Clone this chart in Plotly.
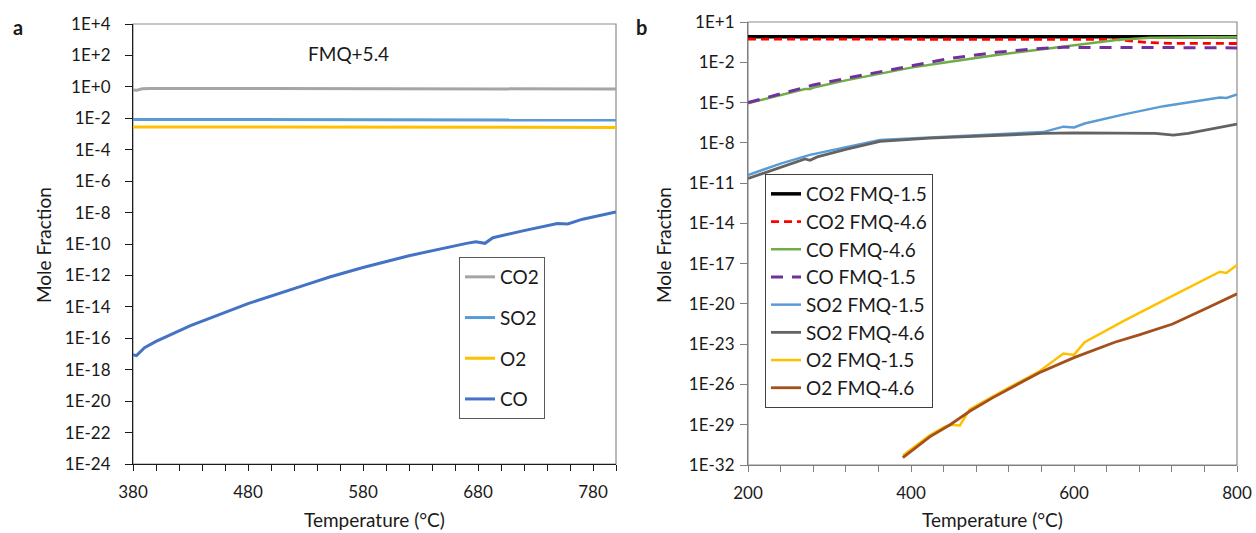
import plotly.graph_objects as go

# ---------------- Panel a data (FMQ+5.4) ----------------
T_a_co2 = [380, 383, 388, 395, 500, 600, 670, 685, 700, 800]
co2_a = [0.62, 0.6, 0.75, 0.8, 0.8, 0.8, 0.8, 0.72, 0.72, 0.72]
T_a_so2 = [380, 500, 600, 670, 685, 700, 800]
so2_a = [0.0085, 0.0085, 0.0085, 0.0085, 0.0077, 0.0077, 0.0077]
T_a_o2 = [380, 500, 600, 670, 685, 700, 800]
o2_a = [0.0028, 0.0028, 0.0029, 0.0029, 0.0026, 0.0026, 0.0026]
T_a_co = [380, 383, 390, 400, 430, 480, 530, 551, 580, 620, 670, 678, 686, 693,
          720, 749, 758, 771, 800]
co_a = [8.9e-18, 7.9e-18, 2.5e-17, 6.3e-17, 6.3e-16, 1.6e-14, 2.5e-13, 7.9e-13,
        3.2e-12, 1.8e-11, 1.1e-10, 1.4e-10, 1.1e-10, 2.5e-10, 7.1e-10, 2.0e-9,
        1.9e-9, 3.8e-9, 1.1e-8]

# ---------------- Panel b data ----------------
T_b_co2_15 = [200, 400, 600, 700, 800]
co2_b_15 = [0.8, 0.8, 0.8, 0.78, 0.78]
T_b_co2_46 = [200, 400, 600, 650, 693, 720, 800]
co2_b_46 = [0.54, 0.54, 0.54, 0.5, 0.29, 0.26, 0.25]
T_b_co_46 = [200, 240, 270, 276, 282, 320, 362, 400, 448, 505, 571, 620, 652,
             693, 740, 800]
co_b_46 = [8.9e-6, 3.5e-5, 1.0e-4, 1.0e-4, 1.4e-4, 4.5e-4, 1.4e-3, 4.0e-3,
           1.1e-2, 3.5e-2, 0.11, 0.26, 0.46, 0.68, 0.74, 0.76]
T_b_co_15 = [200, 240, 280, 320, 362, 400, 448, 505, 550, 587, 620, 700, 800]
co_b_15 = [1.0e-5, 4.5e-5, 2.0e-4, 6.3e-4, 2.0e-3, 5.6e-3, 1.95e-2, 5.5e-2,
           0.1, 0.129, 0.132, 0.126, 0.117]
T_b_so2_15 = [200, 240, 276, 300, 362, 423, 500, 562, 587, 600, 613, 660, 710,
              779, 787, 800]
so2_b_15 = [4.0e-11, 2.8e-10, 1.26e-9, 2.5e-9, 1.6e-8, 2.5e-8, 4.0e-8, 6.3e-8,
            1.6e-7, 1.4e-7, 2.75e-7, 1.26e-6, 5.4e-6, 2.4e-5, 2.2e-5, 4.0e-5]
T_b_so2_46 = [200, 240, 270, 276, 285, 320, 362, 423, 500, 562, 600, 660, 700,
              722, 740, 800]
so2_b_46 = [2.2e-11, 1.6e-10, 6.3e-10, 5.0e-10, 8.9e-10, 3.2e-9, 1.26e-8,
            2.2e-8, 3.5e-8, 5.0e-8, 5.5e-8, 5.5e-8, 5.0e-8, 3.8e-8, 5.0e-8,
            2.5e-7]
T_b_o2_15 = [390, 423, 440, 448, 460, 472, 500, 558, 587, 600, 613, 660, 710,
             779, 787, 800]
o2_b_15 = [5.0e-32, 1.6e-30, 6.3e-30, 1.0e-29, 8.9e-30, 1.4e-28, 1.26e-27,
           1.0e-25, 2.0e-24, 1.6e-24, 1.4e-23, 5.0e-22, 1.8e-20, 2.5e-18,
           2.0e-18, 7.9e-18]
T_b_o2_46 = [390, 423, 448, 472, 500, 558, 600, 650, 680, 721, 760, 800]
o2_b_46 = [3.5e-32, 1.26e-30, 1.0e-29, 1.0e-28, 1.0e-27, 7.9e-26, 1.0e-24,
           1.4e-23, 5.0e-23, 3.2e-22, 4.0e-21, 5.6e-20]

# tick labels
ylabels_a = ["1E+4", "1E+2", "1E+0", "1E-2", "1E-4", "1E-6", "1E-8", "1E-10",
             "1E-12", "1E-14", "1E-16", "1E-18", "1E-20", "1E-22", "1E-24"]
ylabels_b = ["1E+1", "1E-2", "1E-5", "1E-8", "1E-11", "1E-14", "1E-17",
             "1E-20", "1E-23", "1E-26", "1E-29", "1E-32"]


def lab2val(s):
    return float(s.replace("E", "e"))


W, H = 1256, 533
FONT = "Lato, 'Open Sans', Arial, sans-serif"

fig = go.Figure()

# ----- panel a traces -----
a_series = [
    ("CO2", T_a_co2, co2_a, "#A5A5A5"),
    ("SO2", T_a_so2, so2_a, "#5B9BD5"),
    ("O2", T_a_o2, o2_a, "#FFC000"),
    ("CO", T_a_co, co_a, "#4472C4"),
]
for i, (name, x, y, c) in enumerate(a_series):
    fig.add_trace(go.Scatter(x=x, y=y, name=name, mode="lines",
                             line=dict(color=c, width=3),
                             xaxis="x", yaxis="y", legend="legend",
                             legendgroup="a%d" % i))

# ----- panel b traces -----
b_series = [
    ("CO2 FMQ-1.5", T_b_co2_15, co2_b_15, "#000000", "solid", 3.5),
    ("CO2 FMQ-4.6", T_b_co2_46, co2_b_46, "#FF0000", "8px,5px", 2.8),
    ("CO FMQ-4.6", T_b_co_46, co_b_46, "#70AD47", "solid", 2.5),
    ("CO FMQ-1.5", T_b_co_15, co_b_15, "#7030A0", "12px,9px", 3),
    ("SO2 FMQ-1.5", T_b_so2_15, so2_b_15, "#5B9BD5", "solid", 2.5),
    ("SO2 FMQ-4.6", T_b_so2_46, so2_b_46, "#636363", "solid", 2.8),
    ("O2 FMQ-1.5", T_b_o2_15, o2_b_15, "#FFC000", "solid", 2.5),
    ("O2 FMQ-4.6", T_b_o2_46, o2_b_46, "#A5501A", "solid", 2.8),
]
for i, (name, x, y, c, d, w) in enumerate(b_series):
    fig.add_trace(go.Scatter(x=x, y=y, name=name, mode="lines",
                             line=dict(color=c, width=w, dash=d),
                             xaxis="x2", yaxis="y2", legend="legend2",
                             legendgroup="b%d" % i))

# domains (from pixel positions)
ax_l, ax_r, ax_t, ax_b = 133, 616, 24, 464
bx_l, bx_r, bx_t, bx_b = 748, 1237, 22, 465

tickfont = dict(family=FONT, size=17, color="#1a1a1a")

fig.update_layout(
    width=W, height=H,
    margin=dict(l=0, r=0, t=0, b=0, autoexpand=False),
    paper_bgcolor="white", plot_bgcolor="white",
    font=dict(family=FONT, color="#1a1a1a"),
    xaxis=dict(domain=[ax_l / W, ax_r / W], anchor="y", range=[380, 800],
               tick0=380, dtick=100, ticks="outside", ticklen=6,
               tickcolor="#1a1a1a", showline=True, linecolor="#1a1a1a",
               linewidth=1.2, showgrid=False, zeroline=False,
               tickfont=tickfont, automargin=False, ticklabelstandoff=6,
               minor=dict(tick0=380, dtick=20, ticks="outside", ticklen=6,
                          tickcolor="#1a1a1a", showgrid=False)),
    yaxis=dict(domain=[1 - ax_b / H, 1 - ax_t / H], anchor="x", type="log",
               range=[-24, 4], tickvals=[lab2val(s) for s in ylabels_a],
               ticktext=ylabels_a, ticks="outside", ticklen=7,
               tickcolor="#1a1a1a", showline=True, linecolor="#1a1a1a",
               linewidth=1.2, showgrid=False, zeroline=False,
               tickfont=tickfont, automargin=False, ticklabelstandoff=11),
    xaxis2=dict(domain=[bx_l / W, bx_r / W], anchor="y2", range=[200, 800],
                tick0=200, dtick=200, ticks="outside", ticklen=6,
                tickcolor="#7f7f7f", showline=True, linecolor="#7f7f7f",
                linewidth=1.2, showgrid=False, zeroline=False,
                tickfont=tickfont, automargin=False, ticklabelstandoff=6,
                minor=dict(tick0=200, dtick=40, ticks="outside", ticklen=6,
                           tickcolor="#7f7f7f", showgrid=False)),
    yaxis2=dict(domain=[1 - bx_b / H, 1 - bx_t / H], anchor="x2", type="log",
                range=[-32, 1], tickvals=[lab2val(s) for s in ylabels_b],
                ticktext=ylabels_b, ticks="outside", ticklen=7,
                tickcolor="#7f7f7f", showline=True, linecolor="#7f7f7f",
                linewidth=1.2, showgrid=False, zeroline=False,
                tickfont=tickfont, automargin=False, ticklabelstandoff=2),
    legend=dict(x=459 / W, y=1 - 257 / H, xanchor="left", yanchor="top",
                bgcolor="white", bordercolor="#595959", borderwidth=1,
                font=dict(family=FONT, size=19, color="#1a1a1a"),
                tracegroupgap=13, itemwidth=30, entrywidth=70,
                entrywidthmode="pixels"),
    legend2=dict(x=765 / W, y=1 - 174 / H, xanchor="left", yanchor="top",
                 bgcolor="white", bordercolor="#404040", borderwidth=1,
                 font=dict(family=FONT, size=19, color="#1a1a1a"),
                 tracegroupgap=0, itemwidth=30),
    showlegend=True,
)

# plot-area borders (light gray frame)
fig.add_shape(type="rect", xref="paper", yref="paper",
              x0=ax_l / W, x1=ax_r / W, y0=1 - ax_b / H, y1=1 - ax_t / H,
              line=dict(color="#8c8c8c", width=1.2), layer="below")
fig.add_shape(type="rect", xref="paper", yref="paper",
              x0=bx_l / W, x1=bx_r / W, y0=1 - bx_b / H, y1=1 - bx_t / H,
              line=dict(color="#8c8c8c", width=1.2), layer="below")

ann = [
    dict(text="<b>a</b>", x=18 / W, y=1 - 27 / H, size=20),
    dict(text="<b>b</b>", x=641 / W, y=1 - 27 / H, size=20),
    dict(text="FMQ+5.4", x=348 / W, y=1 - 53 / H, size=19),
    dict(text="Temperature (°C)", x=(ax_l + ax_r) / 2 / W, y=1 - 519 / H, size=19),
    dict(text="Temperature (°C)", x=(bx_l + bx_r) / 2 / W, y=1 - 519 / H, size=19),
]
for a in ann:
    fig.add_annotation(text=a["text"], x=a["x"], y=a["y"], xref="paper",
                       yref="paper", showarrow=False, xanchor="center",
                       yanchor="middle",
                       font=dict(family=FONT, size=a["size"], color="#1a1a1a"))
for xp in (44, 664):
    fig.add_annotation(text="Mole Fraction", x=xp / W, y=1 - 245 / H,
                       xref="paper", yref="paper", showarrow=False,
                       textangle=-90, xanchor="center", yanchor="middle",
                       font=dict(family=FONT, size=19, color="#1a1a1a"))

fig.write_html(
    "out.html",
    config={"displayModeBar": False},
    post_script="document.body.style.margin='0';"
                "document.body.style.overflow='hidden';",
)
